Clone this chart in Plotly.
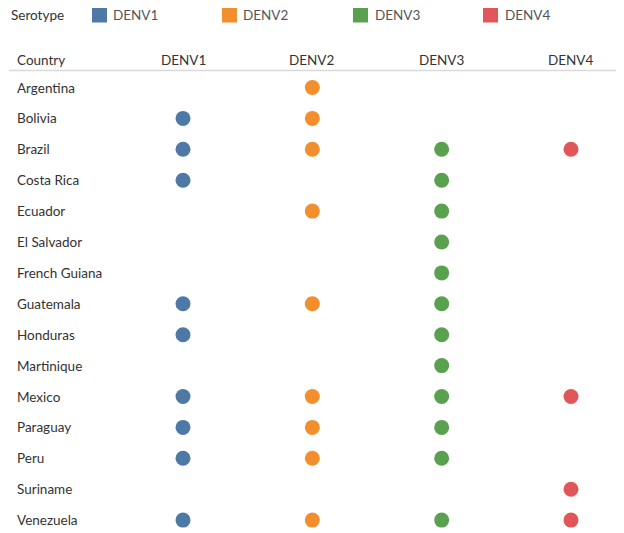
import plotly.graph_objects as go

countries = ["Argentina", "Bolivia", "Brazil", "Costa Rica", "Ecuador", "El Salvador",
             "French Guiana", "Guatemala", "Honduras", "Martinique", "Mexico", "Paraguay",
             "Peru", "Suriname", "Venezuela"]
serotypes = ["DENV1", "DENV2", "DENV3", "DENV4"]
colors = ["#4E79A7", "#F28E2B", "#59A14F", "#E15759"]
# presence (1) of each serotype per country
denv1 = [0, 1, 1, 1, 0, 0, 0, 1, 1, 0, 1, 1, 1, 0, 1]
denv2 = [1, 1, 1, 0, 1, 0, 0, 1, 0, 0, 1, 1, 1, 0, 1]
denv3 = [0, 0, 1, 1, 1, 1, 1, 1, 1, 1, 1, 1, 1, 0, 1]
denv4 = [0, 0, 1, 0, 0, 0, 0, 0, 0, 0, 1, 0, 0, 1, 1]
presence = [denv1, denv2, denv3, denv4]

W, H = 616, 525
OFF = 8  # page body margin
col_px0, col_px_step = 183, (571 - 183) / 3
row_px0, row_px_step = 87.5, 30.9

FONT = "Lato"
FS = 13.5
fig = go.Figure()

for i, (name, col, pres) in enumerate(zip(serotypes, colors, presence)):
    ys = [j for j, p in enumerate(pres) if p]
    fig.add_trace(go.Scatter(
        x=[i] * len(ys), y=ys, mode="markers",
        marker=dict(size=15, color=col, line=dict(width=0)),
        name=name, showlegend=False,
        hovertext=[countries[j] for j in ys], hoverinfo="text+name"))

def px_to_x(px):
    return (px - col_px0) / col_px_step

def px_to_y(py):
    return (py - row_px0) / row_px_step

TXT_X = 15  # annotation box adds ~2px padding

# country labels
for j, c in enumerate(countries):
    fig.add_annotation(x=px_to_x(TXT_X), y=j, text=c, showarrow=False, xanchor="left",
                       yanchor="middle", font=dict(family=FONT, size=FS, color="#333333"))

# header
y_head = px_to_y(60)
fig.add_annotation(x=px_to_x(TXT_X), y=y_head, text="Country", showarrow=False, xanchor="left",
                   yanchor="middle", font=dict(family=FONT, size=FS, color="#333333"))
for i, s in enumerate(serotypes):
    fig.add_annotation(x=i, y=y_head, text=s, showarrow=False, xanchor="center",
                       yanchor="middle", font=dict(family=FONT, size=FS, color="#333333"))
fig.add_shape(type="line", x0=px_to_x(9), x1=px_to_x(624), y0=px_to_y(70.5), y1=px_to_y(70.5),
              line=dict(color="#d9d9d9", width=1.5))

# legend
y_leg = px_to_y(15)
fig.add_annotation(x=px_to_x(9), y=y_leg, text="Serotype", showarrow=False, xanchor="left",
                   yanchor="middle", font=dict(family=FONT, size=FS, color="#333333"))
leg_sq_px = [92, 222, 353, 483]
leg_txt_px = [111, 241, 373, 503]
for s, col, sx, tx in zip(serotypes, colors, leg_sq_px, leg_txt_px):
    fig.add_shape(type="rect", x0=px_to_x(sx), x1=px_to_x(sx + 15),
                  y0=px_to_y(7.5), y1=px_to_y(22.5), fillcolor=col, line=dict(width=0))
    fig.add_annotation(x=px_to_x(tx), y=y_leg, text=s, showarrow=False, xanchor="left",
                       yanchor="middle", font=dict(family=FONT, size=FS, color="#555555"))

fig.update_layout(
    width=W, height=H, margin=dict(l=0, r=0, t=0, b=0),
    plot_bgcolor="white", paper_bgcolor="white",
    xaxis=dict(range=[px_to_x(OFF), px_to_x(OFF + W)], visible=False, fixedrange=True),
    yaxis=dict(range=[px_to_y(OFF + H), px_to_y(OFF)], visible=False, fixedrange=True),
    showlegend=False,
)
fig.write_html("out.html")
